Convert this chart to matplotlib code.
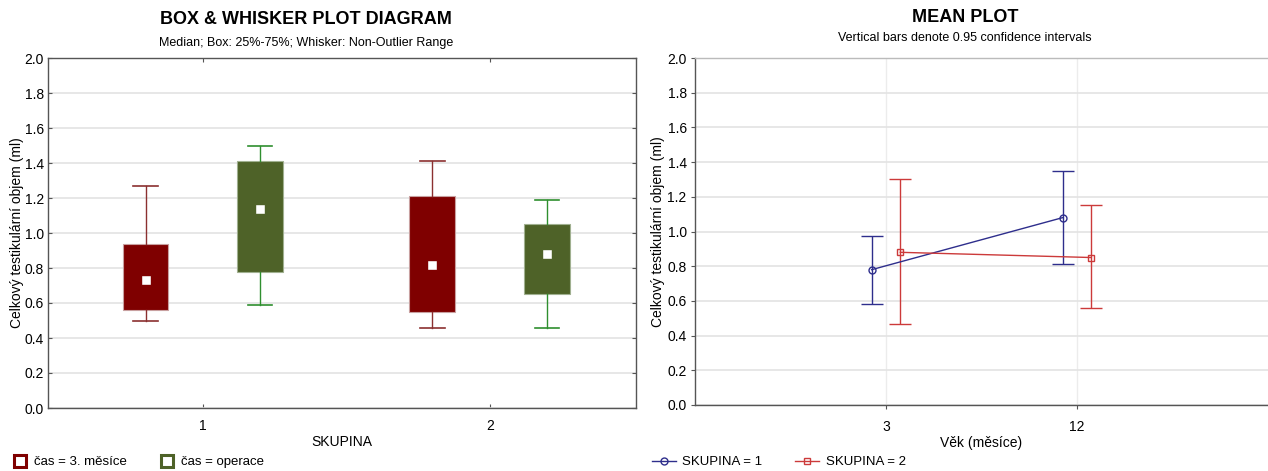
import numpy as np
import matplotlib
matplotlib.use("Agg")
import matplotlib.pyplot as plt
from matplotlib.lines import Line2D

plt.rcParams['font.family'] = ['Liberation Sans', 'DejaVu Sans']

# box & whisker data: (low whisker, Q1, median, Q3, high whisker)
skupiny = [1, 2]
cas_3m = [(0.50, 0.56, 0.73, 0.94, 1.27), (0.46, 0.55, 0.82, 1.21, 1.41)]
cas_op = [(0.59, 0.78, 1.14, 1.41, 1.50), (0.46, 0.65, 0.88, 1.05, 1.19)]

# mean plot data
vek_labels = ['3', '12']
sk1_mean = [0.78, 1.08]
sk1_lo = [0.58, 0.815]
sk1_hi = [0.975, 1.35]
sk2_mean = [0.88, 0.85]
sk2_lo = [0.465, 0.56]
sk2_hi = [1.30, 1.15]

RED_BOX = '#7f0000'
RED_WH = '#8b3030'
GRN_BOX = '#4e6228'
GRN_WH = '#2f8f2f'
BLUE = '#2e2e8c'
RED = '#cc3a3a'

fig = plt.figure(figsize=(12.68, 4.71), dpi=100)
W, H = 1268, 471


def px_axes(l, t, r, b):
    return fig.add_axes([l / W, 1 - b / H, (r - l) / W, (b - t) / H])


def style_axes(ax, ypad):
    ax.set_ylim(0, 2.0)
    ax.set_yticks(np.arange(0, 2.01, 0.2))
    ax.set_yticklabels([f'{v:.1f}' for v in np.arange(0, 2.01, 0.2)])
    ax.grid(axis='y', color='#e3e3e3', lw=1.2)
    ax.set_axisbelow(True)
    for s in ax.spines.values():
        s.set_color('#555555')
        s.set_linewidth(1.0)
    ax.tick_params(labelsize=10, length=3, color='#555555', pad=3)
    ax.set_ylabel('Celkový testikulární objem (ml)', fontsize=10, labelpad=ypad)


# ---- box & whisker
ax1 = px_axes(48, 58, 636, 408)
style_axes(ax1, 0)

for series, off, fc, ec, wc in [(cas_3m, -0.2, RED_BOX, '#c8a0a0', RED_WH),
                                (cas_op, 0.2, GRN_BOX, '#a0b090', GRN_WH)]:
    stats = [dict(whislo=s[0], q1=s[1], med=s[2], q3=s[3], whishi=s[4]) for s in series]
    pos = [x + off for x in skupiny]
    ax1.bxp(stats, positions=pos, widths=0.16, capwidths=0.085, patch_artist=True,
            showfliers=False, manage_ticks=False,
            boxprops=dict(facecolor=fc, edgecolor=ec, lw=0.8),
            whiskerprops=dict(color=wc, lw=1.0),
            capprops=dict(color=wc, lw=1.2),
            medianprops=dict(visible=False))
    ax1.plot(pos, [s[2] for s in series], ls='none', marker='s', ms=6.5,
             mfc='white', mec=fc, mew=1.0, zorder=5)

ax1.set_xlim(0.46, 2.51)
ax1.set_xticks(skupiny)
ax1.set_xticklabels([str(s) for s in skupiny])
ax1.tick_params(axis='x', pad=8, top=True, direction='in')
ax1.tick_params(axis='y', right=True, direction='in')
ax1.set_xlabel('SKUPINA', fontsize=10, labelpad=1)

fig.text(306 / W, 1 - 20 / H, 'BOX & WHISKER PLOT DIAGRAM', ha='center', va='center',
         fontsize=13, fontweight='bold')
fig.text(306 / W, 1 - 43 / H, 'Median; Box: 25%-75%; Whisker: Non-Outlier Range',
         ha='center', va='center', fontsize=9)

h1 = [Line2D([], [], ls='none', marker='s', ms=8, mfc='white', mec=RED_BOX, mew=2.2),
      Line2D([], [], ls='none', marker='s', ms=8, mfc='white', mec=GRN_BOX, mew=2.2)]
fig.legend(h1, ['čas = 3. měsíce', 'čas = operace'], loc='center left',
           bbox_to_anchor=(2 / W, 1 - 462 / H), ncol=2, frameon=False, fontsize=9.5,
           handlelength=1.0, handletextpad=0.5, columnspacing=2.6)

# ---- mean plot
ax2 = px_axes(695, 58, 1268, 405)
style_axes(ax2, 2)
ax2.spines['top'].set_color('#bbbbbb')
ax2.spines['right'].set_visible(False)
xs = np.arange(len(vek_labels))
ax2.set_xlim(-1.0, 2.0)
ax2.set_xticks(xs)
ax2.set_xticklabels(vek_labels)
ax2.grid(axis='x', color='#ececec', lw=1.0)
ax2.tick_params(axis='x', pad=8)
ax2.set_xlabel('Věk (měsíce)', fontsize=10, labelpad=1)

for mean, lo, hi, off, col, mk in [(sk1_mean, sk1_lo, sk1_hi, -0.075, BLUE, 'o'),
                                   (sk2_mean, sk2_lo, sk2_hi, 0.075, RED, 's')]:
    m = np.array(mean)
    yerr = [m - np.array(lo), np.array(hi) - m]
    ax2.errorbar(xs + off, m, yerr=yerr, color=col, lw=1.0, marker=mk, ms=5,
                 mfc='none', mec=col, capsize=8, capthick=1.0, elinewidth=1.0)

fig.text(965 / W, 1 - 18 / H, 'MEAN PLOT', ha='center', va='center',
         fontsize=13, fontweight='bold')
fig.text(965 / W, 1 - 38 / H, 'Vertical bars denote 0.95 confidence intervals',
         ha='center', va='center', fontsize=9)

h2 = [Line2D([], [], color=BLUE, lw=1.0, marker='o', ms=5, mfc='none'),
      Line2D([], [], color=RED, lw=1.0, marker='s', ms=5, mfc='none')]
fig.legend(h2, ['SKUPINA = 1', 'SKUPINA = 2'], loc='center left',
           bbox_to_anchor=(640 / W, 1 - 462 / H), ncol=2, frameon=False, fontsize=9.5,
           handlelength=1.8, handletextpad=0.5, columnspacing=2.5)

fig.savefig('out.png', dpi=100)
